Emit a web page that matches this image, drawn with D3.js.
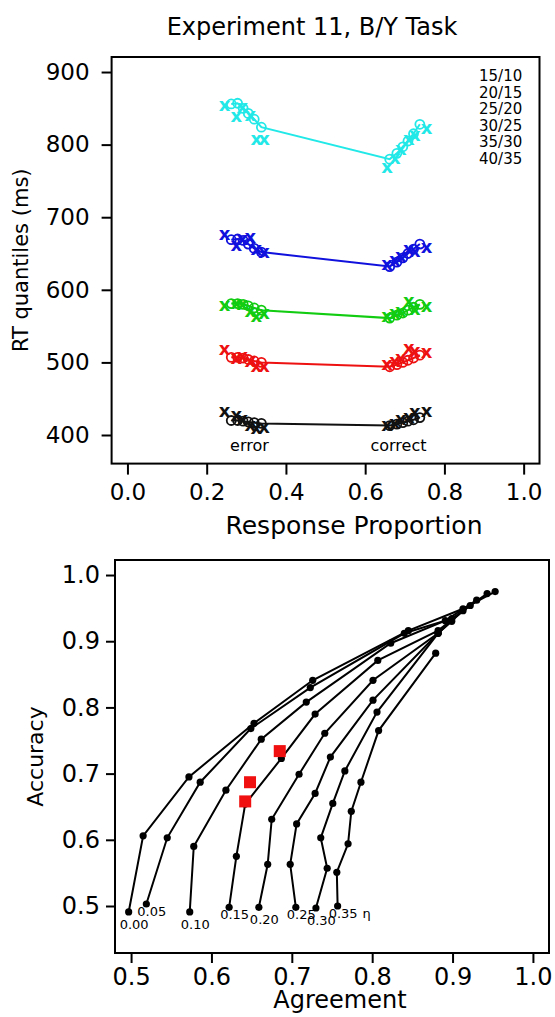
<!DOCTYPE html>
<html>
<head>
<meta charset="utf-8">
<script src="https://cdn.jsdelivr.net/npm/d3@7"></script>
<style>
  body { margin: 0; background: #fff; }
  svg { font-family: "DejaVu Sans", Verdana, sans-serif; }
</style>
</head>
<body>
<div id="chart"></div>
<script>
// ---- top panel: quantile-probability plot ----
const conditions = ["15/10", "20/15", "25/20", "30/25", "35/30", "40/35"];
const quantileNames = ["0.1", "0.3", "0.5", "0.7", "0.9"];
// error-response proportion per condition (correct = 1 - error)
const errPropData = [0.245, 0.275, 0.29, 0.31, 0.325, 0.345];
const errPropModel = [0.262, 0.278, 0.292, 0.305, 0.32, 0.338];
// RT quantiles (ms), one row per quantile, one value per condition
const errRtData = [
  [432, 426, 420, 412, 408, 410],
  [517, 505, 508, 500, 494, 494],
  [578, 580, 579, 570, 562, 566],
  [676, 660, 668, 672, 655, 651],
  [853, 838, 850, 840, 806, 806],
];
const corRtData = [
  [432, 430, 423, 420, 415, 412],
  [513, 515, 519, 504, 500, 496],
  [577, 572, 583, 570, 566, 562],
  [658, 652, 655, 645, 640, 634],
  [822, 812, 806, 793, 780, 768],
];
const errRtModel = [
  [420, 420, 419, 418, 417, 416],
  [507, 507, 506, 504, 502, 500],
  [581, 581, 580, 578, 575, 572],
  [669, 670, 668, 663, 657, 652],
  [856, 857, 850, 843, 835, 824],
];
const corRtModel = [
  [424, 421, 419, 417, 415, 413],
  [510, 506, 503, 500, 497, 494],
  [580, 576, 572, 568, 565, 561],
  [663, 656, 650, 644, 638, 632],
  [828, 815, 805, 797, 788, 780],
];
const topXTicks = [0, 0.2, 0.4, 0.6, 0.8, 1.0];
const topYTicks = [400, 500, 600, 700, 800, 900];

// ---- bottom panel: accuracy vs agreement, one curve per eta ----
const etaLabels = ["0.00", "0.05", "0.10", "0.15", "0.20", "0.25", "0.30", "0.35"];
const agreement = [
  [0.497, 0.515, 0.572, 0.653, 0.726, 0.845, 0.913, 0.953],
  [0.519, 0.545, 0.586, 0.649, 0.723, 0.840, 0.899, 0.943],
  [0.573, 0.578, 0.618, 0.662, 0.718, 0.823, 0.891, 0.930],
  [0.622, 0.631, 0.642, 0.687, 0.729, 0.807, 0.882, 0.922],
  [0.659, 0.670, 0.675, 0.709, 0.741, 0.801, 0.882, 0.913],
  [0.705, 0.698, 0.706, 0.729, 0.748, 0.801, 0.882, 0.899],
  [0.730, 0.744, 0.736, 0.751, 0.766, 0.806, 0.882],
  [0.757, 0.756, 0.770, 0.774, 0.786, 0.808, 0.879],
];
const accuracy = [
  [0.491, 0.606, 0.695, 0.776, 0.841, 0.916, 0.949, 0.975],
  [0.503, 0.603, 0.687, 0.768, 0.830, 0.912, 0.934, 0.972],
  [0.491, 0.590, 0.675, 0.752, 0.808, 0.897, 0.931, 0.962],
  [0.498, 0.575, 0.654, 0.723, 0.790, 0.871, 0.916, 0.954],
  [0.498, 0.563, 0.631, 0.699, 0.761, 0.841, 0.912, 0.946],
  [0.498, 0.563, 0.624, 0.670, 0.725, 0.811, 0.912, 0.930],
  [0.497, 0.557, 0.603, 0.655, 0.704, 0.793, 0.912],
  [0.500, 0.551, 0.594, 0.643, 0.687, 0.765, 0.882],
];
// observed points (red squares)
const obsAgreement = [0.685, 0.648, 0.642];
const obsAccuracy = [0.734, 0.687, 0.658];
const botXTicks = [0.5, 0.6, 0.7, 0.8, 0.9, 1.0];
const botYTicks = [0.5, 0.6, 0.7, 0.8, 0.9, 1.0];

const quantileColors = ["#111111", "#ee1111", "#11cc11", "#1111dd", "#22e8e8"];

const svg = d3.select("#chart").append("svg")
  .attr("width", 555).attr("height", 1017);

// ===== top panel =====
const topBox = { left: 111.6, right: 539.5, top: 57, bottom: 463.6 };
const xT = d3.scaleLinear().domain([-0.04, 1.04]).range([topBox.left, topBox.right]);
const yT = d3.scaleLinear().domain([360.6, 920.7]).range([topBox.bottom, topBox.top]);

svg.append("text")
  .attr("x", 312).attr("y", 35)
  .attr("text-anchor", "middle")
  .attr("font-size", 24)
  .text("Experiment 11, B/Y Task");

const gT = svg.append("g");

const axT = gT.append("g")
  .attr("transform", `translate(0,${topBox.bottom})`)
  .call(d3.axisBottom(xT).tickValues(topXTicks).tickFormat(d3.format(".1f"))
    .tickSize(11).tickPadding(9));
const ayT = gT.append("g")
  .attr("transform", `translate(${topBox.left},0)`)
  .call(d3.axisLeft(yT).tickValues(topYTicks).tickSize(10).tickPadding(12));
[axT, ayT].forEach((a) => {
  a.select(".domain").remove();
  a.selectAll("line").attr("stroke", "#000").attr("stroke-width", 2);
  a.selectAll("text").attr("font-size", 23).attr("fill", "#000")
    .attr("font-family", "DejaVu Sans, Verdana, sans-serif");
});

gT.append("text")
  .attr("x", 354).attr("y", 534)
  .attr("text-anchor", "middle").attr("font-size", 25)
  .text("Response Proportion");
gT.append("text")
  .attr("transform", `translate(28,${(topBox.top + topBox.bottom) / 2}) rotate(-90)`)
  .attr("text-anchor", "middle").attr("font-size", 21)
  .text("RT quantiles (ms)");

// model lines and markers
const lineT = d3.line().x((d) => xT(d[0])).y((d) => yT(d[1]));
quantileNames.forEach((q, qi) => {
  const col = quantileColors[qi];
  const errM = errPropModel.map((p, i) => [p, errRtModel[qi][i]]);
  const corM = errPropModel.map((p, i) => [1 - p, corRtModel[qi][i]]);
  const path = errM.concat(corM).sort((a, b) => a[0] - b[0]);

  gT.append("path").datum(path)
    .attr("d", lineT)
    .attr("fill", "none").attr("stroke", col).attr("stroke-width", 2);

  gT.append("g").selectAll("circle").data(errM.concat(corM)).join("circle")
    .attr("cx", (d) => xT(d[0])).attr("cy", (d) => yT(d[1]))
    .attr("r", 4.5).attr("fill", "none")
    .attr("stroke", col).attr("stroke-width", 1.8);

  const obs = errPropData.map((p, i) => [p, errRtData[qi][i]])
    .concat(errPropData.map((p, i) => [1 - p, corRtData[qi][i]]));
  gT.append("g").selectAll("text").data(obs).join("text")
    .attr("x", (d) => xT(d[0])).attr("y", (d) => yT(d[1]) + 5)
    .attr("text-anchor", "middle")
    .attr("font-size", 18).attr("font-weight", "bold")
    .attr("fill", col)
    .text("x");
});

gT.append("text")
  .attr("x", xT(0.308)).attr("y", yT(400) + 16)
  .attr("text-anchor", "middle").attr("font-size", 16)
  .text("error");
gT.append("text")
  .attr("x", xT(0.684)).attr("y", yT(400) + 16)
  .attr("text-anchor", "middle").attr("font-size", 16)
  .text("correct");

gT.append("g").selectAll("text").data(conditions).join("text")
  .attr("x", 479)
  .attr("y", (d, i) => 81 + i * 16.5)
  .attr("font-size", 15)
  .text((d) => d);

gT.append("rect")
  .attr("x", topBox.left).attr("y", topBox.top)
  .attr("width", topBox.right - topBox.left).attr("height", topBox.bottom - topBox.top)
  .attr("fill", "none").attr("stroke", "#000").attr("stroke-width", 2);

// ===== bottom panel =====
const botBox = { left: 115, right: 549, top: 560, bottom: 953 };
const xB = d3.scaleLinear().domain([0.48, 1.02]).range([botBox.left, botBox.right]);
const yB = d3.scaleLinear().domain([0.429, 1.0227]).range([botBox.bottom, botBox.top]);

const gB = svg.append("g");
const axB = gB.append("g")
  .attr("transform", `translate(0,${botBox.bottom})`)
  .call(d3.axisBottom(xB).tickValues(botXTicks).tickFormat(d3.format(".1f"))
    .tickSize(10).tickPadding(5));
const ayB = gB.append("g")
  .attr("transform", `translate(${botBox.left},0)`)
  .call(d3.axisLeft(yB).tickValues(botYTicks).tickFormat(d3.format(".1f"))
    .tickSize(9).tickPadding(6));
[axB, ayB].forEach((a) => {
  a.select(".domain").remove();
  a.selectAll("line").attr("stroke", "#000").attr("stroke-width", 2);
  a.selectAll("text").attr("font-size", 24).attr("fill", "#000")
    .attr("font-family", "DejaVu Sans, Verdana, sans-serif");
});

gB.append("text")
  .attr("x", 340).attr("y", 1008)
  .attr("text-anchor", "middle").attr("font-size", 24)
  .text("Agreement");
gB.append("text")
  .attr("transform", `translate(43,${(botBox.top + botBox.bottom) / 2}) rotate(-90)`)
  .attr("text-anchor", "middle").attr("font-size", 22)
  .text("Accuracy");

const lineB = d3.line().x((d) => xB(d[0])).y((d) => yB(d[1]));
etaLabels.forEach((eta, i) => {
  const pts = agreement[i].map((a, j) => [a, accuracy[i][j]]);
  gB.append("path").datum(pts)
    .attr("d", lineB)
    .attr("fill", "none").attr("stroke", "#000").attr("stroke-width", 2);
  gB.append("g").selectAll("circle").data(pts).join("circle")
    .attr("cx", (d) => xB(d[0])).attr("cy", (d) => yB(d[1]))
    .attr("r", 3.6).attr("fill", "#000");
  const lab = gB.append("text")
    .attr("x", xB(pts[0][0]) - 9)
    .attr("y", yB(pts[0][1]) + (i % 2 === 0 ? 17 : 12))
    .attr("font-size", 13)
    .text(eta);
  if (i === etaLabels.length - 1) lab.append("tspan").attr("dx", 5).text("η");
});

gB.append("g").selectAll("rect").data(obsAgreement).join("rect")
  .attr("x", (d) => xB(d) - 6)
  .attr("y", (d, i) => yB(obsAccuracy[i]) - 6)
  .attr("width", 12).attr("height", 12)
  .attr("fill", "#f01010");

gB.append("rect")
  .attr("x", botBox.left).attr("y", botBox.top)
  .attr("width", botBox.right - botBox.left).attr("height", botBox.bottom - botBox.top)
  .attr("fill", "none").attr("stroke", "#000").attr("stroke-width", 2);
</script>
</body>
</html>
